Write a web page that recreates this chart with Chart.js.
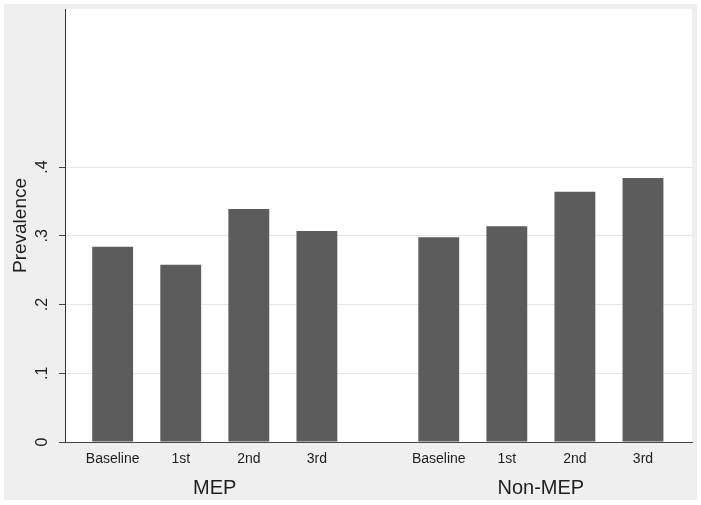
<!DOCTYPE html>
<html>
<head>
<meta charset="utf-8">
<script src="https://cdn.jsdelivr.net/npm/chart.js@4"></script>
<style>
  html, body { margin: 0; padding: 0; background: #ffffff; }
  canvas { display: block; }
</style>
</head>
<body>
<canvas id="c" width="701" height="505"></canvas>
<script>
// ---- data ----
const categories = ['Baseline', '1st', '2nd', '3rd'];
const groups = ['MEP', 'Non-MEP'];
const mepValues = [0.284, 0.258, 0.339, 0.307];
const nonMepValues = [0.298, 0.314, 0.364, 0.384];
const yTickValues = [0, 0.1, 0.2, 0.3, 0.4];
const yTickLabels = ['0', '.1', '.2', '.3', '.4'];
const yTitle = 'Prevalence';

// ---- layout in data units ----
const groupGap = 0.79;
const groupSpan = categories.length + groupGap;
const seriesByGroup = [mepValues, nonMepValues];

const points = [];
const catTicks = [];
seriesByGroup.forEach((vals, g) => {
  vals.forEach((v, i) => {
    const x = g * groupSpan + i;
    points.push({ x: x, y: v });
    catTicks.push({ value: x, label: categories[i] });
  });
});
const groupTicks = groups.map((name, g) => ({
  value: g * groupSpan + (categories.length - 1) / 2,
  label: name
}));
const xMin = -0.7;
const xMax = (groups.length - 1) * groupSpan + categories.length - 1 + 0.72;

const bgPlugin = {
  id: 'bg',
  beforeDraw(chart) {
    const ctx = chart.ctx;
    const a = chart.chartArea;
    ctx.save();
    ctx.fillStyle = '#ffffff';
    ctx.fillRect(0, 0, chart.width, chart.height);
    ctx.fillStyle = '#efefef';
    ctx.fillRect(4, 4, chart.width - 8, chart.height - 9);
    ctx.fillStyle = '#ffffff';
    ctx.fillRect(a.left, a.top, a.right - a.left, a.bottom - a.top);
    ctx.restore();
  }
};

const textColor = '#1e1e1e';
const fontFamily = '"Liberation Sans", Arial, sans-serif';

function noPadX(scale) { scale.paddingLeft = 0; scale.paddingRight = 0; }

new Chart(document.getElementById('c'), {
  type: 'bar',
  data: {
    datasets: [{
      data: points,
      backgroundColor: '#5c5c5c',
      borderWidth: 0,
      barPercentage: 0.6,
      categoryPercentage: 1.0
    }]
  },
  options: {
    responsive: false,
    devicePixelRatio: 1,
    animation: false,
    layout: { padding: { top: 9, right: 9, left: 0, bottom: 0 } },
    plugins: { legend: { display: false }, tooltip: { enabled: false } },
    scales: {
      x: {
        type: 'linear',
        position: 'bottom',
        offset: false,
        min: xMin,
        max: xMax,
        afterBuildTicks(scale) { scale.ticks = catTicks.map(t => ({ value: t.value })); },
        afterFit(scale) { scale.height = 30; noPadX(scale); },
        ticks: {
          callback: (value, index) => catTicks[index] ? catTicks[index].label : '',
          color: textColor,
          font: { family: fontFamily, size: 14 },
          padding: 9,
          maxRotation: 0,
          minRotation: 0,
          autoSkip: false
        },
        grid: { display: true, drawOnChartArea: false, drawTicks: false, offset: false },
        border: { display: true, color: '#444444', width: 1 }
      },
      x2: {
        type: 'linear',
        position: 'bottom',
        offset: false,
        min: xMin,
        max: xMax,
        afterBuildTicks(scale) { scale.ticks = groupTicks.map(t => ({ value: t.value })); },
        afterFit(scale) { scale.height = 33; noPadX(scale); },
        ticks: {
          callback: (value, index) => groupTicks[index] ? groupTicks[index].label : '',
          color: textColor,
          font: { family: fontFamily, size: 20 },
          padding: 4,
          maxRotation: 0,
          minRotation: 0,
          autoSkip: false
        },
        grid: { display: false, drawTicks: false, offset: false },
        border: { display: false }
      },
      y: {
        type: 'linear',
        position: 'left',
        min: 0,
        max: 0.63,
        afterBuildTicks(scale) { scale.ticks = yTickValues.map(v => ({ value: v })); },
        afterFit(scale) { scale.width = 65; scale.paddingTop = 0; scale.paddingBottom = 0; },
        ticks: {
          callback: (value, index) => yTickLabels[index],
          color: textColor,
          font: { family: fontFamily, size: 16 },
          minRotation: 90,
          maxRotation: 90,
          crossAlign: 'center',
          padding: 10,
          autoSkip: false
        },
        grid: {
          color: (ctx) => (ctx.tick && ctx.tick.value === 0) ? 'rgba(0,0,0,0)' : '#e6e6e6',
          lineWidth: 1,
          drawTicks: true,
          tickLength: 6,
          tickColor: '#444444'
        },
        border: { display: true, color: '#333333', width: 1 },
        title: {
          display: true,
          text: yTitle,
          color: textColor,
          font: { family: fontFamily, size: 19 },
          padding: { top: 9, bottom: 0 }
        }
      }
    }
  },
  plugins: [bgPlugin]
});
</script>
</body>
</html>
